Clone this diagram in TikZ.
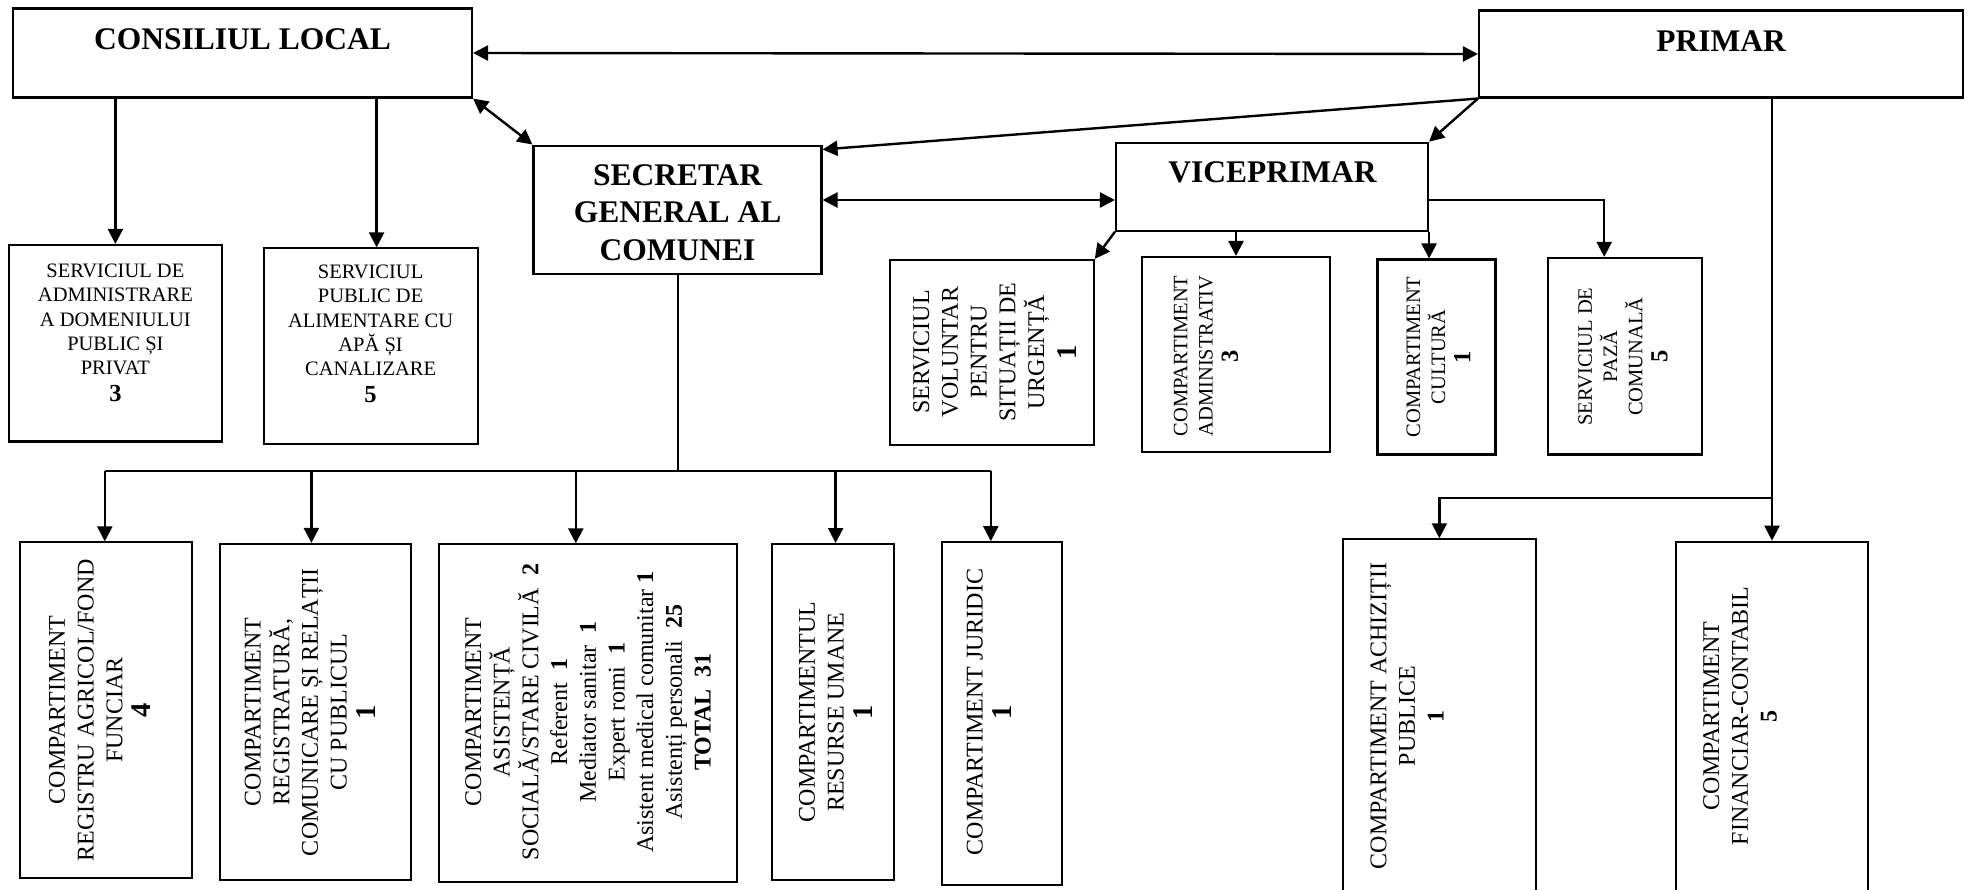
\documentclass[tikz,border=0pt]{standalone}
\usepackage{fontspec}
\setmainfont{Liberation Serif}
\usepackage{tikz}
\usetikzlibrary{arrows.meta, positioning, calc}

\newcommand{\hdfont}{\fontsize{31.5}{37.5}\selectfont\bfseries}
\newcommand{\boxfont}{\fontsize{20.5}{24.2}\selectfont}
\newcommand{\rotfont}{\fontsize{24}{28.7}\selectfont}
\newcommand{\rotsmallfont}{\fontsize{20.5}{25.2}\selectfont}
\newcommand{\cntS}[1]{{\fontsize{24.5}{24.2}\selectfont\bfseries #1}}
\newcommand{\cntL}[1]{{\fontsize{28.5}{28.7}\selectfont\bfseries #1}}

\begin{document}
\begin{tikzpicture}[
    x=1pt, y=-1pt,
    box/.style={draw, line width=2.1pt, inner sep=0pt},
    head/.style={font=\hdfont, inner sep=0pt},
    txt/.style={font=\boxfont, align=center, inner sep=0pt},
    vtxt/.style={font=\rotfont, align=center, rotate=90, inner sep=0pt},
    vtxtsmall/.style={font=\rotsmallfont, align=center, rotate=90, inner sep=0pt},
    link/.style={line width=2.4pt, -{Triangle[length=15pt,width=15pt]}},
    both/.style={line width=2.4pt, {Triangle[length=15pt,width=15pt]}-{Triangle[length=15pt,width=15pt]}},
    bar/.style={line width=2pt}
]
    \useasboundingbox (0,0) rectangle (1977,889);

    % Top level
    \node[box, minimum width=459pt, minimum height=89pt] (consiliu) at (242.5,53) {};
    \node[head] (consiliu-t) at (242.5,39.5) {CONSILIUL LOCAL};
    \node[box, minimum width=484pt, minimum height=87pt] (primar) at (1721,54) {};
    \node[head] (primar-t) at (1721,41) {PRIMAR};
    \node[box, minimum width=288pt, minimum height=128.5pt] (secretar) at (677.5,209.8) {};
    \node[head, align=center] (secretar-t) at (677.6,212.5) {SECRETAR\\GENERAL AL\\COMUNEI};
    \node[box, minimum width=312pt, minimum height=88pt] (vice) at (1272,186.7) {};
    \node[head] (vice-t) at (1272.5,172.8) {VICEPRIMAR};

    % Services under the council
    \node[box, minimum width=213pt, minimum height=196.5pt] (admin) at (115.4,343.2) {};
    \node[txt] (admin-t) at (115.4,333) {SERVICIUL DE\\ADMINISTRARE\\A DOMENIULUI\\PUBLIC ȘI\\PRIVAT\\[3pt]\cntS{3}};
    \node[box, minimum width=214pt, minimum height=196pt] (apa) at (370.6,346.4) {};
    \node[txt] (apa-t) at (370.6,334) {SERVICIUL\\PUBLIC DE\\ALIMENTARE CU\\APĂ ȘI\\CANALIZARE\\[3pt]\cntS{5}};

    % Under the deputy mayor
    \node[box, minimum width=204pt, minimum height=185pt] (urgenta) at (991.7,352.5) {};
    \node[vtxt] (urgenta-t) at (995,352) {SERVICIUL\\VOLUNTAR\\PENTRU\\SITUAȚII DE\\URGENȚĂ\\[4pt]\cntL{1}};
    \node[box, minimum width=188pt, minimum height=195pt] (administrativ) at (1236,354.5) {};
    \node[vtxtsmall] (administrativ-t) at (1206,356) {COMPARTIMENT\\ADMINISTRATIV\\\cntS{3}};
    \node[box, minimum width=118pt, minimum height=195pt] (cultura) at (1436.5,357) {};
    \node[vtxtsmall] (cultura-t) at (1438.4,357) {COMPARTIMENT\\CULTURĂ\\\cntS{1}};
    \node[box, minimum width=154pt, minimum height=196.5pt] (paza) at (1625.2,356.2) {};
    \node[vtxtsmall] (paza-t) at (1623,356.5) {SERVICIUL DE\\PAZĂ\\COMUNALĂ\\\cntS{5}};

    % Under the secretary
    \node[box, minimum width=172pt, minimum height=336pt] (agricol) at (105.8,710.4) {};
    \node[vtxt] (agricol-t) at (100,710) {COMPARTIMENT\\REGISTRU AGRICOL/FOND\\FUNCIAR\\\cntL{4}};
    \node[box, minimum width=191pt, minimum height=336.4pt] (registratura) at (315.4,712.2) {};
    \node[vtxt] (registratura-t) at (310,712) {COMPARTIMENT\\REGISTRATURĂ,\\COMUNICARE ȘI RELAȚII\\CU PUBLICUL\\\cntL{1}};
    \node[box, minimum width=297.5pt, minimum height=337.7pt] (asistenta) at (587.8,713.2) {};
    \node[vtxt] (asistenta-t) at (588,712) {COMPARTIMENT\\ASISTENȚĂ\\SOCIALĂ/STARE CIVILĂ~~\textbf{2}\\Referent~~\textbf{1}\\Mediator sanitar~~\textbf{1}\\Expert romi~~\textbf{1}\\Asistent medical comunitar \textbf{1}\\Asistenți personali~~\textbf{25}\\\textbf{TOTAL~~31}};
    \node[box, minimum width=122pt, minimum height=335.7pt] (resurse) at (832.6,711.9) {};
    \node[vtxt] (resurse-t) at (835.6,712) {COMPARTIMENTUL\\RESURSE UMANE\\\cntL{1}};
    \node[box, minimum width=120pt, minimum height=342.8pt] (juridic) at (1001.8,713.6) {};
    \node[vtxt] (juridic-t) at (989,712) {COMPARTIMENT JURIDIC\\\cntL{1}};

    % Under the mayor
    \node[box, minimum width=193pt, minimum height=353pt] (achizitii) at (1439.4,715.8) {};
    \node[vtxt] (achizitii-t) at (1407,716) {COMPARTIMENT ACHIZIȚII\\PUBLICE\\\textbf{1}};
    \node[box, minimum width=192pt, minimum height=350pt] (financiar) at (1772,716.7) {};
    \node[vtxt] (financiar-t) at (1740,716) {COMPARTIMENT\\FINANCIAR-CONTABIL\\\textbf{5}};

    % Top links
    \draw[both] (consiliu.east) -- (primar.west);
    \draw[both] (consiliu.south east) -- (secretar.north west);
    \draw[link] (primar.south west) -- ([yshift=-5pt]secretar.north east);
    \draw[link] (primar.south west) -- (vice.north east);
    \draw[both] ([yshift=9.8pt]secretar.east) -- ([yshift=-13.3pt]vice.west);

    % Council links
    \draw[link] (admin.north |- consiliu.south) -- (admin.north);
    \draw[link] ([xshift=6pt]apa.north |- consiliu.south) -- ([xshift=6pt]apa.north);

    % Secretary bus
    \coordinate (bus) at (677.5,470.5);
    \draw[bar] (secretar.south) -- (bus);
    \draw[bar] ([xshift=-1pt]agricol.north |- bus) -- ([xshift=-11pt]juridic.north |- bus);
    \draw[link] ([xshift=-1pt]agricol.north |- bus) -- ([xshift=-1pt]agricol.north);
    \draw[link] ([xshift=-4pt]registratura.north |- bus) -- ([xshift=-4pt]registratura.north);
    \draw[link] ([xshift=-12pt]asistenta.north |- bus) -- ([xshift=-12pt]asistenta.north);
    \draw[link] ([xshift=3pt]resurse.north |- bus) -- ([xshift=3pt]resurse.north);
    \draw[link] ([xshift=-11pt]juridic.north |- bus) -- ([xshift=-11pt]juridic.north);

    % Deputy mayor links
    \draw[link] (vice.south west) -- (urgenta.north east);
    \draw[link] (administrativ.north |- vice.south) -- (administrativ.north);
    \draw[link] (vice.south east) -- (vice.south east |- cultura.north);
    \draw[link] ([yshift=-13.3pt]vice.east) -| ([xshift=-21pt]paza.north);

    % Mayor links
    \coordinate (fork) at (1771,498);
    \draw[link] (financiar.north |- primar.south) -- (financiar.north);
    \draw[link] (fork) -| (achizitii.north);
\end{tikzpicture}
\end{document}
